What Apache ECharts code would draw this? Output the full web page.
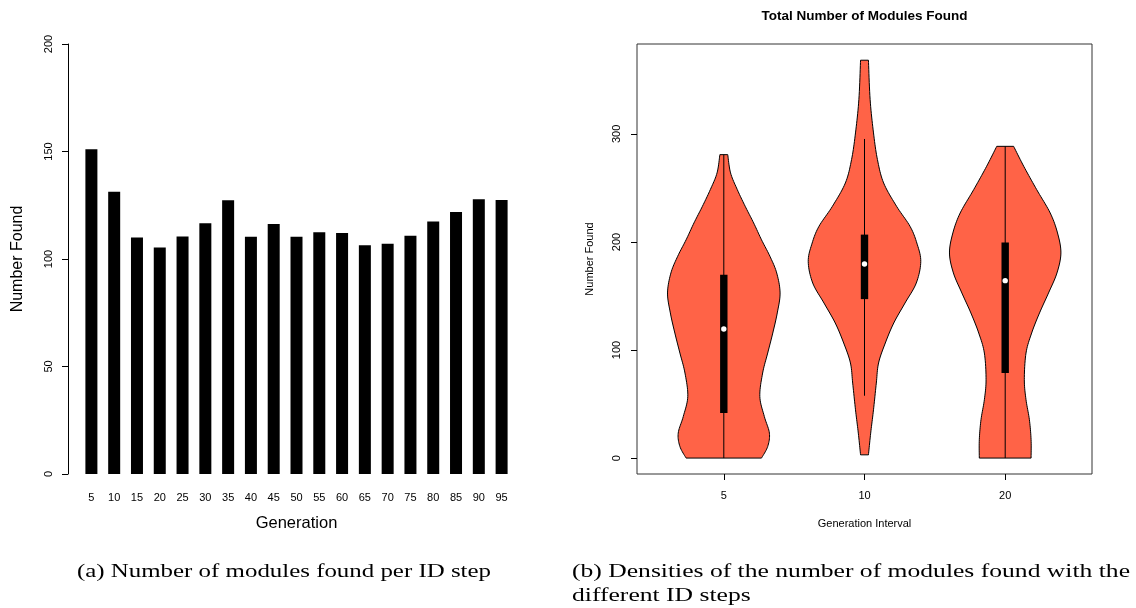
<!DOCTYPE html>
<html>
<head>
<meta charset="utf-8">
<script src="https://cdn.jsdelivr.net/npm/echarts@6/dist/echarts.min.js"></script>
<style>
html,body{margin:0;padding:0;background:#fff;}
#chart{width:1136px;height:608px;}
</style>
</head>
<body>
<div id="chart"></div>
<script>
// ---- Left panel: bar chart ----
const barCategories = ['5','10','15','20','25','30','35','40','45','50','55','60','65','70','75','80','85','90','95'];
const barValues = [151, 131.3, 110, 105.4, 110.5, 116.6, 127.3, 110.4, 116.3, 110.4, 112.4, 112.1, 106.4, 107.1, 110.8, 117.5, 121.9, 127.8, 127.4];
const barYTicks = [0, 50, 100, 150, 200];

// ---- Right panel: violin plot ----
const violinLabels = ['5', '10', '20'];
// density profiles (value, relative half-width)
const violin5Values  = [0, 10.7, 23.1, 38.5, 57, 78.7, 97.2, 115.7, 134.3, 152.8, 171.3, 186.7, 202, 217.6, 233, 248.4, 263.9, 280.8];
const violin5Widths  = [0.67, 0.78, 0.81, 0.72, 0.64, 0.69, 0.78, 0.87, 0.95, 1.0, 0.94, 0.82, 0.67, 0.53, 0.38, 0.24, 0.12, 0.07];
const violin10Values = [3, 23.1, 44.7, 69.4, 88, 106.5, 125, 143.5, 162, 182, 199, 214.4, 233, 254.6, 276.2, 300.9, 331.8, 368.2];
const violin10Widths = [0.07, 0.11, 0.16, 0.21, 0.25, 0.37, 0.52, 0.72, 0.92, 1.0, 0.93, 0.81, 0.57, 0.34, 0.23, 0.16, 0.10, 0.07];
const violin20Values = [0, 17, 35.5, 54, 72.5, 97.2, 115.7, 134.3, 152.8, 171.3, 189.8, 208.3, 226.8, 248.4, 270, 288.5];
const violin20Widths = [0.46, 0.46, 0.43, 0.37, 0.34, 0.37, 0.47, 0.61, 0.77, 0.92, 0.99, 0.93, 0.80, 0.56, 0.33, 0.15];
// box statistics
const violinQ1      = [41.7, 147.1, 78.7];
const violinMedian  = [119.4, 179.6, 164.2];
const violinQ3      = [169.7, 206.8, 199.6];
const violinWhiskLo = [0, 57.7, 0];
const violinWhiskHi = [280.8, 295.3, 288.5];
const violinYTicks  = [0, 100, 200, 300];

// captions
const captionA = '(a) Number of modules found per ID step';
const captionB1 = '(b) Densities of the number of modules found with the';
const captionB2 = 'different ID steps';

const profiles = [
  {v: violin5Values, w: violin5Widths},
  {v: violin10Values, w: violin10Widths},
  {v: violin20Values, w: violin20Widths}
];

function sampleCR(pts, n) {
  const out = [];
  for (let i = 0; i < pts.length - 1; i++) {
    const p0 = pts[i - 1] || pts[i], p1 = pts[i], p2 = pts[i + 1], p3 = pts[i + 2] || pts[i + 1];
    const c1 = [p1[0] + (p2[0] - p0[0]) / 6, p1[1] + (p2[1] - p0[1]) / 6];
    const c2 = [p2[0] - (p3[0] - p1[0]) / 6, p2[1] - (p3[1] - p1[1]) / 6];
    for (let k = 0; k < n; k++) {
      const t = k / n, u = 1 - t;
      out.push([
        u*u*u*p1[0] + 3*u*u*t*c1[0] + 3*u*t*t*c2[0] + t*t*t*p2[0],
        u*u*u*p1[1] + 3*u*u*t*c1[1] + 3*u*t*t*c2[1] + t*t*t*p2[1]
      ]);
    }
  }
  out.push(pts[pts.length - 1]);
  return out;
}

const FONT = "'Liberation Sans', Arial, Helvetica, sans-serif";
const CAPFONT = "19px 'Liberation Serif', 'DejaVu Serif', serif";
const mctx = document.createElement('canvas').getContext('2d');
mctx.font = CAPFONT;
const scaleA = 414 / mctx.measureText(captionA).width;
const scaleB = 558 / mctx.measureText(captionB1).width;

const chart = echarts.init(document.getElementById('chart'));

const option = {
  animation: false,
  backgroundColor: '#ffffff',
  title: {
    text: 'Total Number of Modules Found',
    left: 864.5, top: 9, textAlign: 'center', padding: 0,
    textStyle: {fontFamily: FONT, fontSize: 13.5, fontWeight: 'bold', color: '#000'}
  },
  grid: [
    {left: 80, top: 44, width: 433, height: 430, containLabel: false},
    {left: 637, top: 44, width: 455, height: 430, containLabel: false, show: true, borderColor: '#333', borderWidth: 1, backgroundColor: 'transparent'}
  ],
  xAxis: [
    {
      gridIndex: 0, type: 'category', data: barCategories,
      axisLine: {show: false}, axisTick: {show: false},
      axisLabel: {interval: 0, margin: 18, fontFamily: FONT, fontSize: 11, color: '#000'},
      name: 'Generation', nameLocation: 'middle', nameGap: 41,
      nameTextStyle: {fontFamily: FONT, fontSize: 16.5, color: '#000'}
    },
    {
      gridIndex: 1, type: 'value', min: 0.383, max: 3.617,
      axisLine: {show: false, onZero: false}, splitLine: {show: false},
      axisTick: {show: true, customValues: [1, 2, 3], length: 6, lineStyle: {color: '#000'}},
      axisLabel: {customValues: [1, 2, 3], margin: 16, fontFamily: FONT, fontSize: 11, color: '#000',
        formatter: v => violinLabels[Math.round(v) - 1]},
      name: 'Generation Interval', nameLocation: 'middle', nameGap: 44,
      nameTextStyle: {fontFamily: FONT, fontSize: 11, color: '#000'}
    }
  ],
  yAxis: [
    {
      gridIndex: 0, type: 'value', min: 0, max: 200, interval: 50, offset: 12,
      axisLine: {show: true, lineStyle: {color: '#000'}},
      axisTick: {show: true, length: 6, lineStyle: {color: '#000'}},
      splitLine: {show: false},
      axisLabel: {rotate: 90, margin: 14, fontFamily: FONT, fontSize: 11, color: '#000',
        formatter: v => String(barYTicks[barYTicks.indexOf(v)])},
      name: 'Number Found', nameLocation: 'middle', nameGap: 42,
      nameTextStyle: {fontFamily: FONT, fontSize: 16, color: '#000'}
    },
    {
      gridIndex: 1, type: 'value', min: -14.74, max: 383.2,
      axisLine: {show: false, onZero: false}, splitLine: {show: false},
      axisTick: {show: true, customValues: violinYTicks, length: 6, lineStyle: {color: '#000'}},
      axisLabel: {customValues: violinYTicks, rotate: 90, margin: 15, fontFamily: FONT, fontSize: 11, color: '#000'},
      name: 'Number Found', nameLocation: 'middle', nameGap: 42,
      nameTextStyle: {fontFamily: FONT, fontSize: 11, color: '#000'}
    }
  ],
  series: [
    {
      type: 'bar', xAxisIndex: 0, yAxisIndex: 0, data: barValues, barWidth: 12,
      itemStyle: {color: '#000'}, silent: true
    },
    {
      type: 'custom', xAxisIndex: 1, yAxisIndex: 1, clip: false, silent: true,
      data: violinLabels.map((l, i) => [i + 1, violinMedian[i]]),
      renderItem: function (params, api) {
        const i = params.dataIndex;
        const cx = i + 1;
        const prof = profiles[i];
        const right = prof.v.map((v, k) => api.coord([cx + 0.4 * prof.w[k], v]));
        const left = prof.v.map((v, k) => api.coord([cx - 0.4 * prof.w[k], v]));
        const rs = sampleCR(right, 10);
        const ls = sampleCR(left, 10).reverse();
        const poly = rs.concat(ls);
        const center = api.coord([cx, 0]);
        const x0 = center[0];
        const q1 = api.coord([cx, violinQ1[i]])[1];
        const q3 = api.coord([cx, violinQ3[i]])[1];
        const lo = api.coord([cx, violinWhiskLo[i]])[1];
        const hi = api.coord([cx, violinWhiskHi[i]])[1];
        const md = api.coord([cx, violinMedian[i]])[1];
        return {
          type: 'group',
          children: [
            {type: 'polygon', shape: {points: poly}, style: {fill: '#FF6347', stroke: '#000', lineWidth: 1}},
            {type: 'line', shape: {x1: x0, y1: lo, x2: x0, y2: hi}, style: {stroke: '#000', lineWidth: 1}},
            {type: 'rect', shape: {x: x0 - 3.7, y: q3, width: 7.4, height: q1 - q3}, style: {fill: '#000'}},
            {type: 'circle', shape: {cx: x0, cy: md, r: 2.7}, style: {fill: '#fff'}}
          ]
        };
      }
    }
  ],
  graphic: [
    {type: 'text', x: 77, y: 572, scaleX: scaleA, style: {text: captionA, font: CAPFONT, fill: '#000', textVerticalAlign: 'middle'}},
    {type: 'text', x: 572, y: 572, scaleX: scaleB, style: {text: captionB1, font: CAPFONT, fill: '#000', textVerticalAlign: 'middle'}},
    {type: 'text', x: 572, y: 596, scaleX: scaleB, style: {text: captionB2, font: CAPFONT, fill: '#000', textVerticalAlign: 'middle'}}
  ]
};
chart.setOption(option);
</script>
</body>
</html>
